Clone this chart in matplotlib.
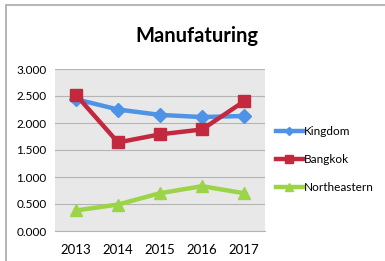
import matplotlib.pyplot as plt
from matplotlib.patches import Rectangle

# Dados
anos = ["2013", "2014", "2015", "2016", "2017"]
kingdom = [2.44, 2.25, 2.15, 2.11, 2.13]
bangkok = [2.52, 1.64, 1.79, 1.88, 2.40]
northeastern = [0.38, 0.49, 0.70, 0.83, 0.70]
yticks = [0.0, 0.5, 1.0, 1.5, 2.0, 2.5, 3.0]
ytick_labels = ["0.000", "0.500", "1.000", "1.500", "2.000", "2.500", "3.000"]

plt.rcParams['font.family'] = ['Lato', 'DejaVu Sans']

fig = plt.figure(figsize=(3.85, 2.61), dpi=100)
fig.patch.set_facecolor('white')

# moldura cinza da figura
fig.patches.append(Rectangle((6 / 385, -0.1), 1.2, 1 - 5 / 261 + 0.1,
                             transform=fig.transFigure, fill=False,
                             edgecolor='#a8a8a8', linewidth=1.2))

ax = fig.add_axes([55 / 385, 1 - 231 / 261, 210 / 385, 162 / 261])
ax.set_facecolor('#e8e8e8')

x = range(len(anos))
ax.plot(x, kingdom, color='#4f93e6', linewidth=3.2, marker='D', markersize=7,
        label='Kingdom')
ax.plot(x, bangkok, color='#c4283f', linewidth=3.2, marker='s', markersize=9,
        label='Bangkok')
ax.plot(x, northeastern, color='#9bd547', linewidth=3.2, marker='^', markersize=9,
        label='Northeastern')

ax.set_xlim(-0.5, len(anos) - 0.5)
ax.set_ylim(0, 3)
ax.set_xticks(list(x))
ax.set_xticklabels(anos, fontsize=9.5)
ax.set_yticks(yticks)
ax.set_yticklabels(ytick_labels, fontsize=8.5)
ax.tick_params(length=0, pad=6)
ax.tick_params(axis='x', pad=9)
ax.grid(axis='y', color='#b4b4b4', linewidth=0.8)
ax.set_axisbelow(True)
for s in ax.spines.values():
    s.set_visible(False)
ax.spines['bottom'].set_visible(True)
ax.spines['bottom'].set_color('#b4b4b4')

fig.text(197 / 385, 1 - 36 / 261, "Manufaturing", ha='center', va='center',
         fontsize=14.5, fontweight='bold')

ax.legend(loc='center left', bbox_to_anchor=(1.0, 0.44), frameon=False,
          fontsize=8.5, handlelength=2.3, handletextpad=0.1, labelspacing=1.45,
          markerscale=0.6)

plt.savefig("out.png", dpi=100)
